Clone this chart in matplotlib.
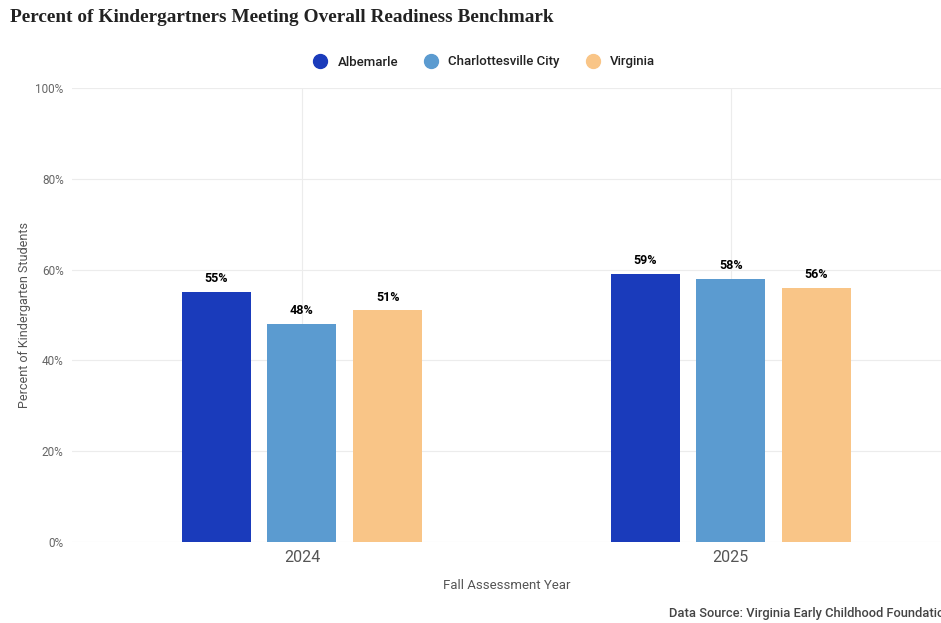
import numpy as np
import matplotlib.pyplot as plt

plt.rcParams['font.family'] = ['Roboto', 'DejaVu Sans']

years = ['2024', '2025']
series = ['Albemarle', 'Charlottesville City', 'Virginia']
values = {
    'Albemarle': [55, 59],
    'Charlottesville City': [48, 58],
    'Virginia': [51, 56],
}
colors = ['#1a3bbb', '#5b9bd0', '#f9c587']
yticks = [0, 20, 40, 60, 80, 100]

W, H = 941, 623
fig = plt.figure(figsize=(W / 100, H / 100), dpi=100)
ax = fig.add_axes([72 / W, 1 - 542 / H, (W - 72) / W, (542 - 88) / H])

x = np.arange(len(years))
offset = 0.2
width = 0.161
for i, s in enumerate(series):
    pos = x + (i - 1) * offset
    bars = ax.bar(pos, values[s], width, color=colors[i], zorder=3)
    for b, v in zip(bars, values[s]):
        ax.annotate(f'{v}%', (b.get_x() + b.get_width() / 2, v),
                    xytext=(0, 5), textcoords='offset points',
                    ha='center', va='bottom', fontsize=9,
                    fontweight='bold', color='black')

ax.set_xlim(-0.536, 1.49)
ax.set_ylim(0, 100)
ax.set_yticks(yticks)
ax.set_yticklabels([f'{t}%' for t in yticks], fontsize=8.5, color='#666666')
ax.set_xticks(x)
ax.set_xticklabels(years, fontsize=11.5, color='#555555')
ax.tick_params(length=0, axis='y', pad=6)
ax.tick_params(length=0, axis='x', pad=6)
ax.grid(True, color='#ececec', linewidth=0.8, zorder=0)
for sp in ax.spines.values():
    sp.set_visible(False)

ax.set_xlabel('Fall Assessment Year', fontsize=9.5, color='#555555', labelpad=10)
ax.set_ylabel('Percent of Kindergarten Students', fontsize=9, color='#555555', labelpad=3)

fig.text(10 / W, 1 - 17 / H, 'Percent of Kindergartners Meeting Overall Readiness Benchmark',
         family='Liberation Serif', fontweight='bold', fontsize=13.9,
         color='#222222', va='center', ha='left')

# legend
handles = [plt.Line2D([], [], marker='o', linestyle='none', markersize=10,
                      markerfacecolor=c, markeredgecolor=c) for c in colors]
leg = fig.legend(handles, series, loc='center', bbox_to_anchor=(481 / W, 1 - 62 / H),
                 ncol=3, frameon=False, fontsize=9.5, handletextpad=0.3,
                 columnspacing=1.5)
for t in leg.get_texts():
    t.set_fontweight('medium')
    t.set_color('#222222')

# source note runs off the right edge, as in the original
fig.text(669 / W, 1 - 613 / H, 'Data Source: Virginia Early Childhood Foundation',
         fontsize=9.3, fontweight='medium', color='#444444', ha='left', va='center')

fig.savefig('out.png', dpi=100, facecolor='white')
